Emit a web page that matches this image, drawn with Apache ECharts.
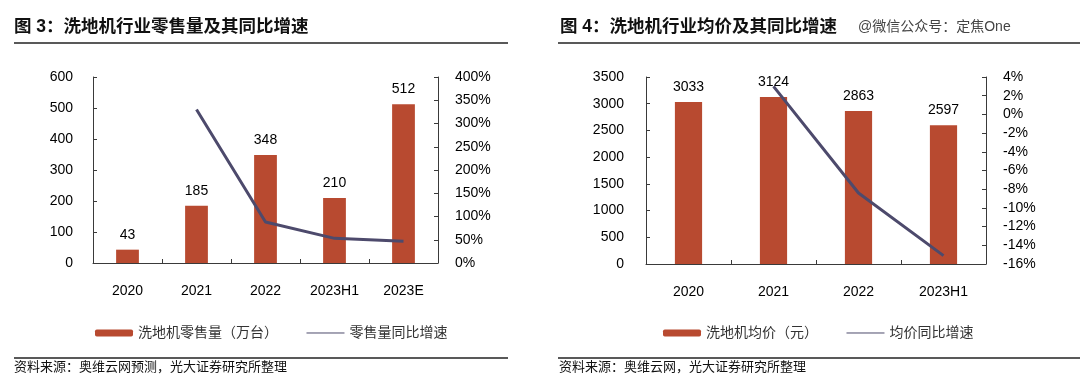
<!DOCTYPE html>
<html><head><meta charset="utf-8">
<script src="https://cdn.jsdelivr.net/npm/echarts@6/dist/echarts.min.js"></script>
<style>html,body{margin:0;padding:0;background:#fff}#c{width:1080px;height:389px}</style>
</head><body><div id="c"></div>
<script>
// ---- data ----
const salesCategories = ['2020', '2021', '2022', '2023H1', '2023E'];
const salesVolume = [43, 185, 348, 210, 512];          // 万台
const salesGrowth = [null, 330, 88, 53, 47];          // %
const priceCategories = ['2020', '2021', '2022', '2023H1'];
const avgPrice = [3033, 3124, 2863, 2597];            // 元
const priceGrowth = [null, 3.0, -8.4, -15.1];         // %

const FONT = "'Liberation Sans','Noto Sans CJK SC',sans-serif";
const BAR = '#B84A30';
const LINE = '#4D4A6C';
const AXIS = '#3a3a3a';

const chart = echarts.init(document.getElementById('c'), null, {renderer: 'canvas'});

function yAxisBase(extra, label) {
  return Object.assign({
    type: 'value',
    axisLine: {show: true, lineStyle: {color: AXIS, width: 1}},
    axisTick: {show: true, inside: true, length: 4, lineStyle: {color: AXIS}},
    splitLine: {show: false},
    axisLabel: Object.assign({color: '#000', fontSize: 14, fontFamily: FONT, formatter: v => String(v)}, label)
  }, extra);
}
function xAxisBase(cats, gridIndex) {
  return {
    type: 'category', data: cats, gridIndex: gridIndex,
    axisLine: {show: true, lineStyle: {color: AXIS, width: 1}},
    axisTick: {show: true, inside: true, length: 4, lineStyle: {color: AXIS}},
    axisLabel: {color: '#000', fontSize: 14, fontFamily: FONT, margin: 21}
  };
}
const titleStyle = {fontSize: 17.5, fontWeight: 'bold', color: '#111', fontFamily: FONT};
const srcStyle = {fontSize: 13, fontWeight: 'normal', color: '#111', fontFamily: FONT};
const hiddenSymbol = {color: 'rgba(0,0,0,0)', borderWidth: 0};

chart.setOption({
  animation: false,
  backgroundColor: '#fff',
  textStyle: {fontFamily: FONT},
  title: [
    {text: '图 3：洗地机行业零售量及其同比增速', left: 14, top: 18, padding: 0, textStyle: titleStyle},
    {text: '图 4：洗地机行业均价及其同比增速', left: 560, top: 18, padding: 0, textStyle: titleStyle},
    {text: '@微信公众号：定焦One', left: 858, top: 20, padding: 0,
     textStyle: {fontSize: 14, fontWeight: 'normal', color: '#444', fontFamily: FONT}},
    {text: '资料来源：奥维云网预测，光大证券研究所整理', left: 14, top: 361, padding: 0, textStyle: srcStyle},
    {text: '资料来源：奥维云网，光大证券研究所整理', left: 559, top: 361, padding: 0, textStyle: srcStyle}
  ],
  graphic: [
    {type: 'line', shape: {x1: 14, y1: 43, x2: 508, y2: 43}, style: {stroke: '#222', lineWidth: 1.5}},
    {type: 'line', shape: {x1: 558, y1: 43, x2: 1080, y2: 43}, style: {stroke: '#222', lineWidth: 1.5}},
    {type: 'line', shape: {x1: 14, y1: 358, x2: 508, y2: 358}, style: {stroke: '#222', lineWidth: 1.5}},
    {type: 'line', shape: {x1: 558, y1: 358, x2: 1080, y2: 358}, style: {stroke: '#222', lineWidth: 1.5}}
  ],
  legend: [
    {data: ['洗地机零售量（万台）', {name: '零售量同比增速', itemStyle: hiddenSymbol}],
     left: 95, top: 326, padding: 0, itemWidth: 38, itemHeight: 7,
     itemGap: 28, textStyle: {fontSize: 14, color: '#333', fontFamily: FONT}, lineStyle: {width: 1}},
    {data: ['洗地机均价（元）', {name: '均价同比增速', itemStyle: hiddenSymbol}],
     left: 663, top: 326, padding: 0, itemWidth: 38, itemHeight: 7,
     itemGap: 28, textStyle: {fontSize: 14, color: '#333', fontFamily: FONT}, lineStyle: {width: 1}}
  ],
  grid: [
    {left: 93, right: 642, top: 77, bottom: 126},
    {left: 646, right: 94, top: 77, bottom: 125}
  ],
  xAxis: [xAxisBase(salesCategories, 0), xAxisBase(priceCategories, 1)],
  yAxis: [
    yAxisBase({gridIndex: 0, min: 0, max: 600, interval: 100}, {margin: 20}),
    yAxisBase({gridIndex: 0, min: 0, max: 400, interval: 50, position: 'right'}, {margin: 17, formatter: '{value}%'}),
    yAxisBase({gridIndex: 1, min: 0, max: 3500, interval: 500}, {margin: 22}),
    yAxisBase({gridIndex: 1, min: -16, max: 4, interval: 2, position: 'right'}, {margin: 17, formatter: '{value}%'})
  ],
  series: [
    {name: '洗地机零售量（万台）', type: 'bar', xAxisIndex: 0, yAxisIndex: 0, data: salesVolume,
     barWidth: '33%', itemStyle: {color: BAR},
     label: {show: true, position: 'top', distance: 8, color: '#000', fontSize: 14, fontFamily: FONT}},
    {name: '零售量同比增速', type: 'line', xAxisIndex: 0, yAxisIndex: 1, data: salesGrowth,
     symbol: 'none', lineStyle: {color: LINE, width: 3}, itemStyle: {color: LINE}},
    {name: '洗地机均价（元）', type: 'bar', xAxisIndex: 1, yAxisIndex: 2, data: avgPrice,
     barWidth: '32%', itemStyle: {color: BAR},
     label: {show: true, position: 'top', distance: 8, color: '#000', fontSize: 14, fontFamily: FONT}},
    {name: '均价同比增速', type: 'line', xAxisIndex: 1, yAxisIndex: 3, data: priceGrowth,
     symbol: 'none', lineStyle: {color: LINE, width: 3}, itemStyle: {color: LINE}}
  ]
});
</script></body></html>
